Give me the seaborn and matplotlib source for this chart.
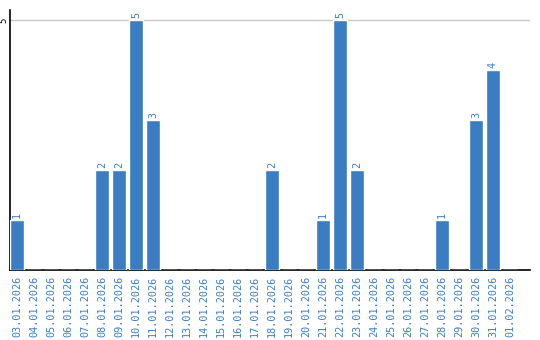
import matplotlib
matplotlib.use("Agg")
import matplotlib.pyplot as plt
import seaborn as sns
import pandas as pd

dates = ["03.01.2026", "04.01.2026", "05.01.2026", "06.01.2026", "07.01.2026",
         "08.01.2026", "09.01.2026", "10.01.2026", "11.01.2026", "12.01.2026",
         "13.01.2026", "14.01.2026", "15.01.2026", "16.01.2026", "17.01.2026",
         "18.01.2026", "19.01.2026", "20.01.2026", "21.01.2026", "22.01.2026",
         "23.01.2026", "24.01.2026", "25.01.2026", "26.01.2026", "27.01.2026",
         "28.01.2026", "29.01.2026", "30.01.2026", "31.01.2026", "01.02.2026"]
counts = [1, 0, 0, 0, 0, 2, 2, 5, 3, 0, 0, 0, 0, 0, 0, 2, 0, 0, 1, 5,
          2, 0, 0, 0, 0, 1, 0, 3, 4, 0]

sns.set_style("white")
plt.rcParams['font.family'] = ['DejaVu Sans Mono', 'DejaVu Sans']

BLUE = "#3a7dc2"
df = pd.DataFrame({"date": dates, "count": counts})

fig = plt.figure(figsize=(5.4, 3.4), dpi=100)
ax = fig.add_axes([10/540, 70/340, 520/540, 260/340])
sns.barplot(data=df, x="date", y="count", color=BLUE, saturation=1,
            width=0.82, ax=ax, zorder=3)

ax.set_xlim(-0.41, 30.18)
ax.set_ylim(0, 5.2)
ax.set_yticks([5])
ax.set_yticklabels(["5"], rotation=90, fontsize=6.5, va="center", color="black")
ax.yaxis.grid(True, color="#c8c8c8", linewidth=1, zorder=0)
ax.tick_params(axis="y", length=0, pad=1)
ax.tick_params(axis="x", length=0, pad=4)
ax.set_xticks(range(len(dates)))
ax.set_xticklabels(dates, rotation=90, fontsize=7.3, color=BLUE, va="top", ha="center")
ax.set_xlabel("")
ax.set_ylabel("")

for s in ["top", "right"]:
    ax.spines[s].set_visible(False)
for s in ["left", "bottom"]:
    ax.spines[s].set_color("black")
    ax.spines[s].set_linewidth(1.2)

for i, v in enumerate(counts):
    if v > 0:
        ax.text(i, v + 0.04, str(v), rotation=90, ha="center", va="bottom",
                fontsize=7.3, color=BLUE)

fig.savefig("out.png", dpi=100)
